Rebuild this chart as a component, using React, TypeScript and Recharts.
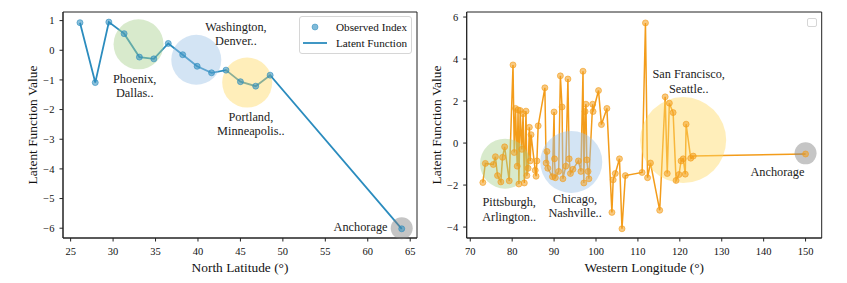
import React from "react";
import {
  ComposedChart,
  Line,
  XAxis,
  YAxis,
  ReferenceDot,
  ReferenceArea,
  Legend,
} from "recharts";

const FONT = '"Liberation Serif", "DejaVu Serif", serif';

// ---- left panel: north latitude ----
const latX = [26.1, 27.9, 29.5, 31.3, 33.1, 34.8, 36.5, 38.2, 39.9, 41.6, 43.3, 45.0, 46.8, 48.5, 64.0];
const latY = [0.93, -1.09, 0.95, 0.56, -0.23, -0.29, 0.23, -0.15, -0.54, -0.76, -0.67, -1.06, -1.21, -0.84, -6.02];
const latTicksX = [25, 30, 35, 40, 45, 50, 55, 60, 65];
const latTicksY = [1, 0, -1, -2, -3, -4, -5, -6];
const latRegionX = [33.0, 39.8, 45.8, 64.0];
const latRegionY = [0.2, -0.32, -1.09, -6.0];
const latNoteText = [["Phoenix,", "Dallas.."], ["Washington,", "Denver.."], ["Portland,", "Minneapolis.."], ["Anchorage"]];
const latNoteX = [32.55, 44.47, 46.23, 62.33];
const latNoteY = [-1.1, 0.65, -2.38, -6.08];

// ---- right panel: western longitude ----
const lonX = [
  73.0, 73.6, 75.5, 76.0, 76.5, 77.3, 77.7, 78.2, 79.3, 80.2, 80.5, 80.8, 81.2, 81.4, 81.6, 81.9, 82.3, 82.6,
  82.9, 83.3, 83.5, 83.8, 84.1, 84.3, 84.5, 85.5, 85.7, 85.9, 86.2, 87.8, 88.1, 88.3, 88.5, 89.6, 90.0, 90.1,
  90.3, 91.1, 91.5, 91.9, 92.1, 92.8, 93.3, 93.6, 93.9, 94.5, 95.8, 96.4, 96.9, 97.1, 97.4, 97.6, 97.8, 98.1,
  98.3, 99.2, 99.3, 100.6, 101.3, 102.6, 103.8, 104.1, 104.6, 105.6, 106.2, 107.0, 111.0, 111.8, 112.3, 113.0,
  115.2, 116.5, 117.0, 117.5, 118.4, 119.1, 119.8, 120.3, 120.8, 121.3, 121.5, 122.6, 123.2, 150.0,
];
const lonY = [
  -1.88, -0.97, -1.02, -0.65, -1.55, -1.85, -0.68, -0.18, -1.8, 3.72, -0.45, 1.65, -1.1, 1.58, -1.95, 1.55, -0.3, 1.4,
  -1.9, 1.52, -1.55, -1.2, 0.75, -0.85, 0.4, -1.3, -1.58, -0.85, 0.82, 2.63, -0.95, -0.4, -1.2, -1.6, 1.48, -0.75,
  -1.65, -1.35, 3.2, 1.72, -1.7, -1.1, 3.05, -0.75, -1.45, -1.25, -0.85, -1.35, 3.42, -1.9, 1.5, 1.85, -0.8, -1.35,
  -1.7, 1.85, 1.5, 2.5, 0.88, 1.65, -3.3, -1.75, -1.45, -0.75, -4.08, -1.55, -1.4, 5.72, -1.65, -0.95,
  -3.2, 2.2, -1.45, 1.9, 1.45, -1.78, -1.5, -0.85, -0.75, -1.48, 0.9, -0.72, -0.62, -0.52,
];
const lonTicksX = [70, 80, 90, 100, 110, 120, 130, 140, 150];
const lonTicksY = [6, 4, 2, 0, -2, -4];
const lonRegionX = [78.3, 94.1, 120.8, 150.0];
const lonRegionY = [-0.98, -0.9, 0.14, -0.49];
const lonNoteText = [["Pittsburgh,", "Arlington.."], ["Chicago,", "Nashville.."], ["San Francisco,", "Seattle.."], ["Anchorage"]];
const lonNoteX = [79.29, 95.02, 122.12, 143.28];
const lonNoteY = [-3.02, -2.83, 3.09, -1.56];

// styles for the highlight bubbles (green, blue, yellow, grey)
const regionFill = ["#a9d18e", "#9dc3e6", "#ffd966", "#7f7f7f"];
const latRadius = [25, 25, 25, 11];
const lonRadius = [25, 31, 43, 11];

const minus = (v: number) => String(v).replace("-", "\u2212");

function noteLabel(lines: string[], anchor: "middle" | "end") {
  return (props: any) => {
    const vb = props.viewBox || {};
    const x = vb.x + (vb.width || 0) / 2;
    const y = vb.y + (vb.height || 0) / 2;
    return (
      <text x={x} y={y} textAnchor={anchor} fontFamily={FONT} fontSize={12.3} fill="#222">
        {lines.map((l, i) => (
          <tspan key={i} x={x} dy={i === 0 ? 0 : 14.5}>
            {l}
          </tspan>
        ))}
      </text>
    );
  };
}

function xAxisLabel(text: string) {
  return (props: any) => {
    const vb = props.viewBox;
    return (
      <text x={vb.x + vb.width / 2} y={vb.y + 33.5} textAnchor="middle" fontFamily={FONT} fontSize={13.4} fill="#111">
        {text}
      </text>
    );
  };
}

function yAxisLabel(text: string, dx: number) {
  return (props: any) => {
    const vb = props.viewBox;
    const x = vb.x + dx;
    const y = vb.y + vb.height / 2;
    return (
      <text x={x} y={y} transform={`rotate(-90, ${x}, ${y})`} textAnchor="middle" fontFamily={FONT} fontSize={13.4} fill="#111">
        {text}
      </text>
    );
  };
}

function LatLegend() {
  return (
    <div
      style={{
        width: 113,
        height: 38,
        boxSizing: "border-box",
        border: "1px solid #d6d6d6",
        borderRadius: 3,
        background: "rgba(255,255,255,0.85)",
      }}
    >
      <svg width={111} height={36} style={{ display: "block" }}>
        <circle cx={15} cy={10} r={3} fill="#2b8cbe" fillOpacity={0.6} stroke="#2b8cbe" strokeOpacity={0.5} />
        <text x={36} y={13.5} fontFamily={FONT} fontSize={11.2} fill="#111">
          Observed Index
        </text>
        <line x1={3} x2={27} y1={26} y2={26} stroke="#2b8cbe" strokeWidth={1.8} />
        <text x={36} y={29.8} fontFamily={FONT} fontSize={11.2} fill="#111">
          Latent Function
        </text>
      </svg>
    </div>
  );
}

function EmptyLegend() {
  return (
    <div
      style={{
        width: 10,
        height: 9,
        boxSizing: "border-box",
        border: "1px solid #d6d6d6",
        borderRadius: 2,
        background: "#fff",
      }}
    />
  );
}

interface PanelProps {
  xs: number[];
  ys: number[];
  color: string;
  lineWidth: number;
  xDomain: [number, number];
  yDomain: [number, number];
  xTicks: number[];
  yTicks: number[];
  xLabel: string;
  yLabel: string;
  yLabelDx: number;
  regionX: number[];
  regionY: number[];
  radius: number[];
  notes: string[][];
  noteX: number[];
  noteY: number[];
  width: number;
  yAxisWidth: number;
  marginRight: number;
  legend: React.ReactNode;
  legendPos: { left: number; top: number };
}

function Panel(p: PanelProps) {
  const data = p.xs.map((x, i) => ({ x, y: p.ys[i] }));
  const tickStyle = { fill: "#111", fontSize: 10.5, fontFamily: FONT };
  return (
    <ComposedChart
      width={p.width}
      height={283}
      data={data}
      margin={{ top: 12, right: p.marginRight, bottom: 0, left: 0 }}
    >
      <XAxis
        dataKey="x"
        type="number"
        domain={p.xDomain}
        ticks={p.xTicks}
        allowDataOverflow
        height={45}
        stroke="#222"
        tickSize={3.5}
        tickMargin={6}
        tick={tickStyle}
        label={xAxisLabel(p.xLabel)}
      />
      <YAxis
        type="number"
        domain={p.yDomain}
        ticks={p.yTicks}
        allowDataOverflow
        width={p.yAxisWidth}
        stroke="#222"
        tickSize={3.5}
        tickMargin={5}
        tick={tickStyle}
        tickFormatter={minus}
        label={yAxisLabel(p.yLabel, p.yLabelDx)}
      />
      <ReferenceArea
        x1={p.xDomain[0]}
        x2={p.xDomain[1]}
        y1={p.yDomain[0]}
        y2={p.yDomain[1]}
        fill="none"
        stroke="#222"
        strokeWidth={1}
        fillOpacity={0}
      />
      <Line
        dataKey="y"
        type="linear"
        stroke={p.color}
        strokeWidth={p.lineWidth}
        dot={{ r: 3, fill: p.color, fillOpacity: 0.55, stroke: p.color, strokeOpacity: 0.6, strokeWidth: 1 }}
        activeDot={false}
        isAnimationActive={false}
      />
      {p.regionX.map((x, i) => (
        <ReferenceDot
          key={`r${i}`}
          x={x}
          y={p.regionY[i]}
          r={p.radius[i]}
          fill={regionFill[i]}
          fillOpacity={0.45}
          stroke="none"
        />
      ))}
      {p.notes.map((lines, i) => (
        <ReferenceDot
          key={`n${i}`}
          x={p.noteX[i]}
          y={p.noteY[i]}
          r={0}
          fill="none"
          stroke="none"
          label={noteLabel(lines, lines.length === 1 && i === 3 && p.xLabel.startsWith("North") ? "end" : "middle")}
        />
      ))}
      <Legend
        layout="horizontal"
        verticalAlign="middle"
        align="center"
        content={() => p.legend}
        wrapperStyle={{ position: "absolute", left: p.legendPos.left, top: p.legendPos.top, width: "auto", height: "auto" }}
      />
    </ComposedChart>
  );
}

export default function App() {
  return (
    <div style={{ position: "absolute", left: 0, top: 0, width: 847, height: 283, background: "#fff", fontFamily: FONT }}>
      <div style={{ position: "absolute", left: 0, top: 0 }}>
        <Panel
          xs={latX}
          ys={latY}
          color="#2b8cbe"
          lineWidth={1.8}
          xDomain={[24.1, 65.8]}
          yDomain={[-6.33, 1.29]}
          xTicks={latTicksX}
          yTicks={latTicksY}
          xLabel="North Latitude (°)"
          yLabel="Latent Function Value"
          yLabelDx={37}
          regionX={latRegionX}
          regionY={latRegionY}
          radius={latRadius}
          notes={latNoteText}
          noteX={latNoteX}
          noteY={latNoteY}
          width={420}
          yAxisWidth={63}
          marginRight={3}
          legend={<LatLegend />}
          legendPos={{ left: 299, top: 16 }}
        />
      </div>
      <div style={{ position: "absolute", left: 420, top: 0 }}>
        <Panel
          xs={lonX}
          ys={lonY}
          color="#f39c1a"
          lineWidth={1.5}
          xDomain={[69.15, 153.85]}
          yDomain={[-4.52, 6.24]}
          xTicks={lonTicksX}
          yTicks={lonTicksY}
          xLabel="Western Longitude (°)"
          yLabel="Latent Function Value"
          yLabelDx={20.5}
          regionX={lonRegionX}
          regionY={lonRegionY}
          radius={lonRadius}
          notes={lonNoteText}
          noteX={lonNoteX}
          noteY={lonNoteY}
          width={427}
          yAxisWidth={46.7}
          marginRight={25.3}
          legend={<EmptyLegend />}
          legendPos={{ left: 386.7, top: 18.3 }}
        />
      </div>
    </div>
  );
}
